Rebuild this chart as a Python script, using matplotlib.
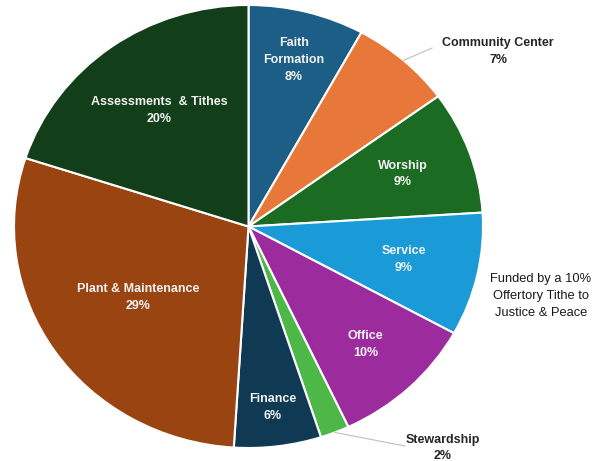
import numpy as np
import matplotlib.pyplot as plt
from matplotlib import font_manager

# budget split, clockwise from 12 o'clock
categories = ["Faith\nFormation", "Community Center", "Worship", "Service", "Office",
              "Stewardship", "Finance", "Plant & Maintenance", "Assessments  & Tithes"]
shares = [8, 7, 9, 9, 10, 2, 6, 29, 20]
colors = ["#1D5E86", "#E8773A", "#1C6B22", "#1A9AD6", "#9C2B9E",
          "#4DB848", "#103A53", "#9A4411", "#123F1A"]
note = "Funded by a 10%\nOffertory Tithe to\nJustice & Peace"

# where each label sits, as a fraction of the radius (None = outside label)
label_r = [0.775, None, 0.70, 0.68, 0.73, None, 0.825, 0.57, 0.645]
outside = {1: ((0.783, 0.806), (1.064, 0.792)),
           5: ((0.667, -0.991), (0.829, -1.0))}

W, H = 603, 461
fig = plt.figure(figsize=(W / 100, H / 100), dpi=100)
# pie is a bit wider than tall
ax = fig.add_axes([14 / W, 13 / H, 469 / W, 443 / H])

wedges, _ = ax.pie(shares, colors=colors, startangle=90, counterclock=False,
                   wedgeprops=dict(edgecolor="white", linewidth=1.5))
ax.set_aspect("auto")
ax.set_xlim(-1, 1)
ax.set_ylim(-1, 1)
ax.axis("off")

bold = dict(family="Liberation Sans", fontweight="bold", fontsize=9,
            ha="center", va="center", multialignment="center", linespacing=1.55)

for i, (w, name, val) in enumerate(zip(wedges, categories, shares)):
    mid = np.deg2rad((w.theta1 + w.theta2) / 2)
    text = f"{name}\n{val}%"
    if label_r[i] is not None:
        r = label_r[i]
        ax.text(r * np.cos(mid), r * np.sin(mid), text, color="#F2F2F2", **bold)
    else:
        elbow, pos = outside[i]
        ax.plot([np.cos(mid), elbow[0]], [np.sin(mid), elbow[1]],
                color="#BFBFBF", lw=0.8, clip_on=False)
        ax.text(pos[0], pos[1], text, color="#262626", clip_on=False, **bold)

names = {f.name for f in font_manager.fontManager.ttflist}
if "Liberation Sans Narrow" in names:
    note_font, note_size = "Liberation Sans Narrow", 11
else:
    note_font, note_size = "Liberation Sans", 9.3
fig.text(541 / W, 1 - 296 / H, note, family=note_font, fontsize=note_size,
         color="#1A1A1A", ha="center", va="center", multialignment="center",
         linespacing=1.6)

fig.savefig("out.png", dpi=100)
